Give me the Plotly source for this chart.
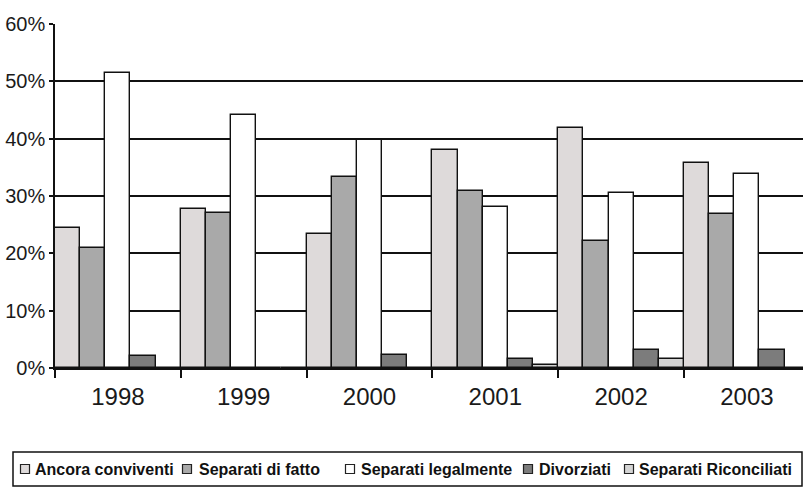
import plotly.graph_objects as go

years = ["1998", "1999", "2000", "2001", "2002", "2003"]
series_names = ["Ancora conviventi", "Separati di fatto", "Separati legalmente",
                "Divorziati", "Separati Riconciliati"]
ancora_conviventi = [24.5, 27.7, 23.4, 38.0, 41.8, 35.7]
separati_di_fatto = [21.0, 27.0, 33.4, 30.9, 22.2, 26.8]
separati_legalmente = [51.5, 44.2, 39.8, 28.0, 30.6, 33.8]
divorziati = [2.1, 0.0, 2.3, 1.6, 3.1, 3.2]
separati_riconciliati = [0.0, 0.0, 0.0, 0.6, 1.5, 0.0]
y_ticks = [0, 10, 20, 30, 40, 50, 60]
y_tick_labels = ["0%", "10%", "20%", "30%", "40%", "50%", "60%"]

values = [ancora_conviventi, separati_di_fatto, separati_legalmente,
          divorziati, separati_riconciliati]
colors = ["#dedada", "#a9a9a9", "#ffffff", "#7c7c7c", "#d4d4d4"]

W, H = 803, 488
ML, MR, MT, MB = 55, 0, 24, 120
PW, PH = W - ML - MR, H - MT - MB

fig = go.Figure()
for name, vals, col in zip(series_names, values, colors):
    fig.add_trace(go.Bar(
        x=years, y=vals, name=name,
        marker=dict(color=col, line=dict(color="#111111", width=1.4)),
        showlegend=False,
    ))

def px_x(p):
    return (p - ML) / PW

def px_y(p):
    return (H - MB - p) / PH

# custom legend (layout positions)
shapes = [dict(type="rect", xref="paper", yref="paper",
               x0=px_x(13), x1=px_x(802), y0=px_y(486), y1=px_y(452),
               line=dict(color="#111111", width=1.5), fillcolor="rgba(0,0,0,0)")]
annotations = []
sym_centers = [25, 187, 350, 528, 629]
text_starts = [33, 197, 359, 537, 637]
yc = 469
for name, col, sc, ts in zip(series_names, colors, sym_centers, text_starts):
    shapes.append(dict(type="rect", xref="paper", yref="paper",
                       x0=px_x(sc - 4.5), x1=px_x(sc + 4.5),
                       y0=px_y(yc + 4.5), y1=px_y(yc - 4.5),
                       line=dict(color="#222222", width=1.2),
                       fillcolor=col))
    annotations.append(dict(xref="paper", yref="paper", x=px_x(ts), y=px_y(yc),
                            text="<b>" + name + "</b>", showarrow=False,
                            xanchor="left", yanchor="middle",
                            font=dict(family="Liberation Sans, Arial", size=16,
                                      color="#111111")))

fig.update_layout(
    width=W, height=H,
    margin=dict(l=ML, r=MR, t=MT, b=MB),
    paper_bgcolor="white", plot_bgcolor="white",
    barmode="group", bargap=0, bargroupgap=0,
    font=dict(family="Liberation Sans, Arial", color="#1a1a1a"),
    shapes=shapes, annotations=annotations,
    xaxis=dict(
        type="category", range=[-0.5, 5.446],
        showline=True, linecolor="#111111", linewidth=1.5,
        ticks="outside", tickson="boundaries", ticklen=8,
        tickcolor="#111111", tickwidth=1.5,
        tickfont=dict(size=24, color="#1a1a1a"),
        ticklabelstandoff=6,
        showgrid=False,
    ),
    yaxis=dict(
        range=[0, 60], tickvals=y_ticks, ticktext=y_tick_labels,
        showline=True, linecolor="#111111", linewidth=1.5,
        ticks="outside", ticklen=4, tickcolor="#111111", tickwidth=1.5,
        tickfont=dict(size=20, color="#1a1a1a"),
        showgrid=True, gridcolor="#111111", gridwidth=1.8,
        zeroline=False,
    ),
)

fig.write_html("out.html")
